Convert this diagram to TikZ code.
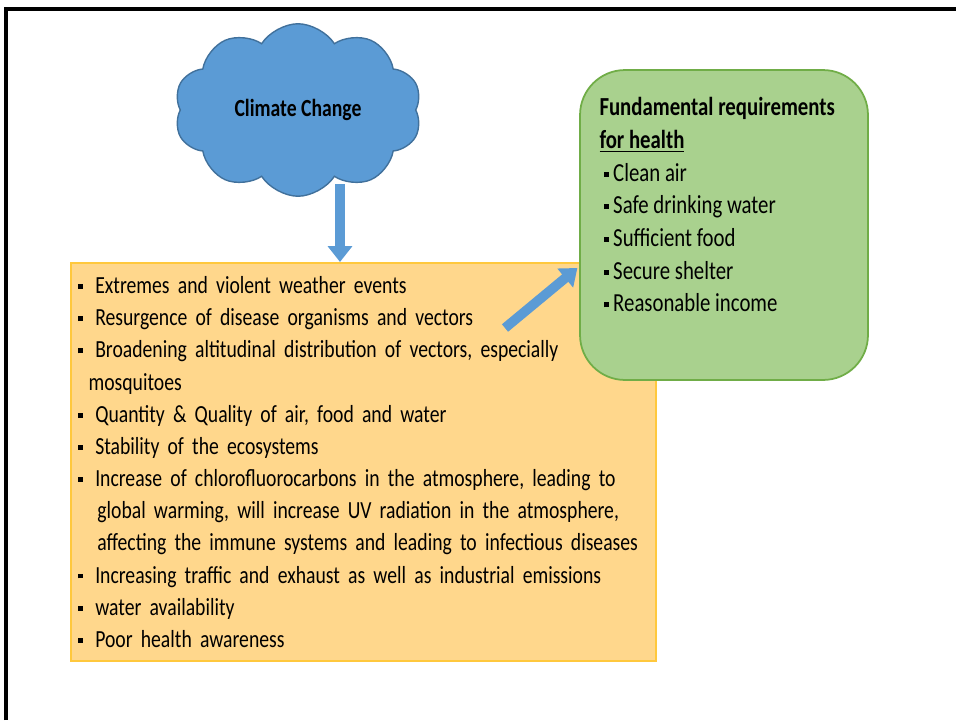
\documentclass[tikz,border=0pt]{standalone}
\usepackage{fontspec}
\setmainfont[FakeStretch=0.8]{Carlito}
\usetikzlibrary{shapes.symbols,arrows.meta,positioning}

\definecolor{cloudblue}{HTML}{5B9BD5}
\definecolor{cloudedge}{HTML}{41719C}
\definecolor{hazardfill}{HTML}{FFD78C}
\definecolor{hazardedge}{HTML}{FFC83D}
\definecolor{needfill}{HTML}{A9D18E}
\definecolor{neededge}{HTML}{70AD47}

% square bullets
\newcommand{\sqbul}{\rule[2.6pt]{2.8pt}{2.8pt}}
\newcommand{\hz}{\sqbul\hspace{7pt}}
\newcommand{\nd}{\hspace*{2.5pt}\sqbul\hspace{2.5pt}}

\tikzset{
    blockarrow/.style = {draw=cloudblue, line width=5.5pt,
        -{Triangle[length=9pt,width=13.5pt]}},
    listtext/.style = {align=left, font=\fontsize{14}{18.3}\selectfont},
    hazardbox/.style = {draw=hazardedge, fill=hazardfill, line width=1.2pt,
        inner xsep=0.14cm, inner ysep=0pt},
    needbox/.style = {draw=neededge, fill=needfill, line width=1pt,
        rounded corners=0.9cm}
}

\begin{document}
\begin{tikzpicture}[x=0.02cm, y=-0.02cm]
    \useasboundingbox (0,0) rectangle (956,720);
    % slide frame
    \draw [line width=1.8pt] (6,720) -- (6,9) -- (956,9);

    \node [cloud, cloud puffs=10, cloud puff arc=115, aspect=1.5, draw=cloudedge,
        fill=cloudblue, line width=0.8pt, minimum width=4.95cm, minimum height=3.45cm,
        font=\fontsize{14}{16}\selectfont\bfseries] (cloud) at (298,110) {Climate Change};

    \node [hazardbox, listtext, anchor=north west, text width=11.42cm,
        minimum height=7.96cm] (hazards) at (70,262) {%
        \hz Extremes and violent weather events\\
        \hz Resurgence of disease organisms and vectors\\
        \hz Broadening altitudinal distribution of vectors, especially\\
        \hspace*{6pt}mosquitoes\\
        \hz Quantity \& Quality of air, food and water\\
        \hz Stability of the ecosystems\\
        \hz Increase of chlorofluorocarbons in the atmosphere, leading to\\
        \hspace*{11pt}global warming, will increase UV radiation in the atmosphere,\\
        \hspace*{11pt}affecting the immune systems and leading to infectious diseases\\
        \hz Increasing traffic and exhaust as well as industrial emissions\\
        \hz water availability\\
        \hz Poor health awareness};

    \node [needbox, minimum width=5.76cm, minimum height=6.2cm] (needs) at (724,225) {};
    \node [listtext, font=\fontsize{14.8}{18.6}\selectfont, inner sep=0pt,
        anchor=north west, below right=0.56cm and 0.4cm of needs.north west] (needlist) {%
        \textbf{Fundamental requirements}\\
        \textbf{\underline{for health}}\\
        \nd Clean air\\
        \nd Safe drinking water\\
        \nd Sufficient food\\
        \nd Secure shelter\\
        \nd Reasonable income};

    % arrows
    \coordinate (drop) at (340,184);
    \draw [blockarrow] (drop) -- (drop |- hazards.north);
    \coordinate (tail) at (505,328);
    \draw [blockarrow] (tail) -- ([xshift=-1pt,yshift=-0.86cm]needs.west);
\end{tikzpicture}
\end{document}
